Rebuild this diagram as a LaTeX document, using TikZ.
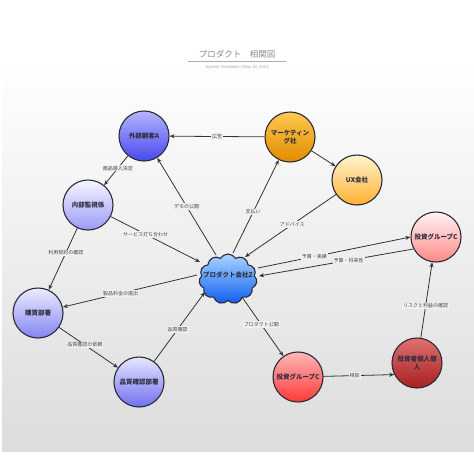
\documentclass[tikz,border=0pt]{standalone}
\usepackage{fontspec}
\setmainfont{Noto Sans CJK JP}
\newfontfamily\latinfont{Liberation Sans}
\usetikzlibrary{shapes.symbols,arrows.meta,calc}
\definecolor{nodeborder}{HTML}{2A2A38}
\definecolor{nodetext}{HTML}{2E2E40}
\definecolor{linkcol}{HTML}{333333}
\definecolor{lbltext}{HTML}{444444}
\definecolor{lblbg}{HTML}{F1F1F1}
\definecolor{titlecol}{HTML}{8A8A8A}
\definecolor{subcol}{HTML}{A8A8A8}
\definecolor{bgbot}{HTML}{DCDCDC}
\definecolor{aTop}{HTML}{B4B4FF}\definecolor{aBot}{HTML}{4848EE}
\definecolor{iTop}{HTML}{F6F6FF}\definecolor{iBot}{HTML}{9A9AF8}
\definecolor{bTop}{HTML}{ECECFF}\definecolor{bBot}{HTML}{8484F2}
\definecolor{qTop}{HTML}{E6E6FF}\definecolor{qBot}{HTML}{7070F0}
\definecolor{mTop}{HTML}{FFC850}\definecolor{mBot}{HTML}{E08C00}
\definecolor{uTop}{HTML}{FFF4D0}\definecolor{uBot}{HTML}{FFB030}
\definecolor{cTop}{HTML}{FFF4F4}\definecolor{cBot}{HTML}{FF8888}
\definecolor{dTop}{HTML}{FFB8B8}\definecolor{dBot}{HTML}{FF3838}
\definecolor{pTop}{HTML}{E07070}\definecolor{pBot}{HTML}{A82020}
\definecolor{zTop}{HTML}{A8D4FF}\definecolor{zBot}{HTML}{1060F0}
\begin{document}
\begin{tikzpicture}[x=1pt,y=-1pt,
  actor/.style={circle, draw=nodeborder, line width=1.1pt, minimum size=50pt, inner sep=1pt, align=center, font=\fontsize{6.5}{8}\selectfont\bfseries, text=nodetext},
  link/.style={draw=linkcol, line width=0.8pt, -{Stealth[length=5pt,width=4pt]}},
  lbl/.style={fill=lblbg, inner sep=1pt, font=\fontsize{5}{6}\selectfont, text=lbltext}
]
\useasboundingbox (0,0) rectangle (474,474);
\fill[white] (0,0) rectangle (474,474);
\shade[top color=white, bottom color=bgbot] (2,60) rectangle (474,451);

% title
\node[font=\fontsize{8.5}{10}\selectfont, text=titlecol] (T) at (237,54) {プロダクト　相関図};
\draw[titlecol!70, line width=0.5pt] (188,61) -- (286,61);
\node[font=\latinfont\fontsize{4.2}{5}\selectfont, text=subcol] (S) at (237,67) {System Templates | May 16, 2024};

% nodes
\node[actor, top color=aTop, bottom color=aBot] (A) at (144,136) {外部顧客A};
\node[actor, top color=mTop, bottom color=mBot] (M) at (290,137) {マーケティン\\グ社};
\node[actor, top color=uTop, bottom color=uBot] (U) at (357,180) {UX会社};
\node[actor, top color=iTop, bottom color=iBot] (I) at (88,205) {内部監視係};
\node[actor, top color=cTop, bottom color=cBot] (C1) at (436,237) {投資グループC};
\node[actor, top color=bTop, bottom color=bBot] (B) at (38,313) {購買部署};
\node[actor, top color=qTop, bottom color=qBot] (Q) at (139,382) {品質確認部署};
\node[actor, top color=dTop, bottom color=dBot] (C2) at (298,377) {投資グループC};
\node[actor, top color=pTop, bottom color=pBot] (P) at (417,363) {投資者個人個\\人};
\node[cloud, cloud puffs=11, cloud puff arc=120, aspect=1.15, draw=nodeborder, line width=1.1pt,
      minimum width=58pt, minimum height=50pt, inner sep=0pt, top color=zTop, bottom color=zBot] (Z) at (228,279) {};
\node[font=\fontsize{6.5}{8}\selectfont\bfseries, text=nodetext, inner sep=0pt] (Zt) at (228,275) {プロダクト会社Z};

% connectors
\draw[link] (M) -- node[lbl,pos=0.5]{広告} (A);
\draw[link] (M) -- (U);
\draw[link] (A) -- node[lbl,pos=0.42]{商品導入決定} (I);
\draw[link] ($(Z)+(-12,-24)$) -- node[lbl,pos=0.5]{デモの公開} (A);
\draw[link] ($(Z)+(5,-26)$) -- node[lbl,pos=0.44]{支払い} (M);
\draw[link] (U) -- node[lbl,pos=0.48]{アドバイス} ($(Z)+(17,-22)$);
\draw[link] (I) -- node[lbl,pos=0.39]{サービス打ち合わせ} ($(Z)+(-28,-17)$);
\draw[link] (I) -- node[lbl,pos=0.4]{利用契約の確認} (B);
\draw[link] ($(Z)+(30,-11)$) -- node[lbl,pos=0.37]{予算・実績} (C1.180);
\draw[link] (C1.208) -- node[lbl,pos=0.42]{予算・将来性} ($(Z)+(31,-3)$);
\draw[link] ($(Z)+(-31,-4)$) -- node[lbl,pos=0.57]{製品料金の提出} (B);
\draw[link] (B) -- node[lbl,pos=0.44]{品質確認の依頼} (Q);
\draw[link] (Q) -- node[lbl,pos=0.46]{品質確認} ($(Z)+(-23,13)$);
\draw[link] ($(Z)+(14,18)$) -- node[lbl,pos=0.47]{プロダクト公開} (C2);
\draw[link] (C2) -- node[lbl,pos=0.44]{相談} (P.207);
\draw[link] (P) -- node[lbl,pos=0.42]{リスクと利益の確認} (C1);
\end{tikzpicture}
\end{document}
